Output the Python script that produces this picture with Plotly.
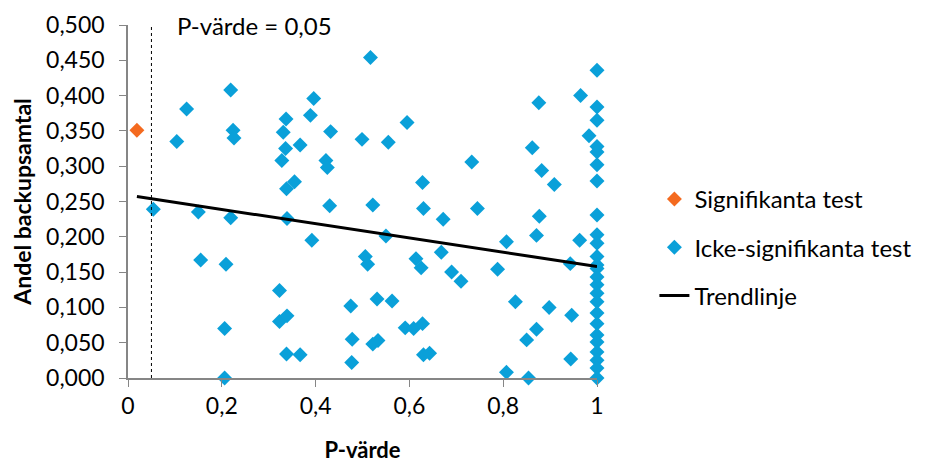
import plotly.graph_objects as go

# ---- data ----
sig_x = [0.019]
sig_y = [0.351]

nonsig_x = [
    0.054, 0.104, 0.125, 0.150, 0.155, 0.206, 0.206, 0.209, 0.219, 0.219,
    0.224, 0.226, 0.323, 0.323, 0.339, 0.328, 0.331, 0.336, 0.337, 0.338,
    0.355, 0.339, 0.338, 0.367, 0.367, 0.389, 0.396, 0.392, 0.422, 0.425,
    0.430, 0.432, 0.475, 0.478, 0.477, 0.499, 0.506, 0.511, 0.517, 0.522,
    0.522, 0.533, 0.531, 0.550, 0.555, 0.563, 0.591, 0.595, 0.609, 0.614,
    0.625, 0.628, 0.628, 0.630, 0.630, 0.643, 0.668, 0.672, 0.690, 0.710,
    0.733, 0.745, 0.788, 0.807, 0.807, 0.826, 0.850, 0.854, 0.862, 0.871,
    0.871, 0.876, 0.877, 0.882, 0.898, 0.909, 0.943, 0.944, 0.946, 0.965,
    0.963, 0.983,
    1.0, 1.0, 1.0, 1.0, 1.0, 1.0, 1.0, 1.0, 1.0, 1.0, 1.0, 1.0, 1.0, 1.0,
    1.0, 1.0, 1.0, 1.0, 1.0, 1.0, 1.0, 1.0, 1.0, 1.0, 1.0,
]
nonsig_y = [
    0.239, 0.335, 0.381, 0.235, 0.167, 0.070, 0.000, 0.161, 0.408, 0.227,
    0.351, 0.340, 0.124, 0.080, 0.088, 0.308, 0.348, 0.325, 0.367, 0.268,
    0.278, 0.226, 0.034, 0.033, 0.330, 0.372, 0.396, 0.195, 0.308, 0.298,
    0.244, 0.349, 0.102, 0.055, 0.022, 0.338, 0.172, 0.161, 0.454, 0.245,
    0.048, 0.053, 0.112, 0.201, 0.334, 0.109, 0.071, 0.362, 0.070, 0.169,
    0.156, 0.277, 0.077, 0.240, 0.033, 0.035, 0.178, 0.225, 0.150, 0.137,
    0.306, 0.240, 0.154, 0.193, 0.008, 0.108, 0.054, 0.000, 0.326, 0.202,
    0.069, 0.390, 0.229, 0.294, 0.100, 0.274, 0.162, 0.027, 0.089, 0.400,
    0.195, 0.343,
    0.436, 0.384, 0.365, 0.328, 0.320, 0.302, 0.279, 0.231, 0.203, 0.191,
    0.172, 0.155, 0.143, 0.132, 0.120, 0.108, 0.092, 0.077, 0.061, 0.051,
    0.037, 0.025, 0.014, 0.000, 0.160,
]

trend_x = [0.019, 1.0]
trend_y = [0.257, 0.158]

p_threshold = 0.05

x_tickvals = [0, 0.2, 0.4, 0.6, 0.8, 1.0]
x_ticktext = ["0", "0,2", "0,4", "0,6", "0,8", "1"]
y_tickvals = [0, 0.05, 0.1, 0.15, 0.2, 0.25, 0.3, 0.35, 0.4, 0.45, 0.5]
y_ticktext = ["0,000", "0,050", "0,100", "0,150", "0,200", "0,250",
              "0,300", "0,350", "0,400", "0,450", "0,500"]

FONT = "Lato, 'Noto Sans', sans-serif"
BLUE = "#0AA0D9"
ORANGE = "#F46A1F"
AXIS = "#868686"

fig = go.Figure()

fig.add_trace(go.Scatter(
    x=sig_x, y=sig_y, mode="markers", name="Signifikanta test",
    marker=dict(symbol="diamond", size=11.5, color=ORANGE),
    cliponaxis=False, legendgroup="a",
))
fig.add_trace(go.Scatter(
    x=nonsig_x, y=nonsig_y, mode="markers", name="Icke-signifikanta test",
    marker=dict(symbol="diamond", size=11.5, color=BLUE),
    cliponaxis=False, legendgroup="b",
))
fig.add_trace(go.Scatter(
    x=trend_x, y=trend_y, mode="lines", name="Trendlinje",
    line=dict(color="black", width=3),
    cliponaxis=False, legendgroup="c",
))

fig.add_shape(type="line", xref="x", yref="y",
              x0=p_threshold, x1=p_threshold, y0=0, y1=0.5,
              line=dict(color="black", width=1, dash="3px,3px"))

fig.add_annotation(text="P-värde = 0,05", xref="x", yref="y",
                   x=0.1, y=0.5, xanchor="left", yanchor="middle",
                   showarrow=False, font=dict(family=FONT, size=24, color="black"))

fig.update_layout(
    width=928, height=463,
    margin=dict(l=128, r=330, t=25, b=85),
    paper_bgcolor="white", plot_bgcolor="white",
    font=dict(family=FONT, size=23, color="black"),
    showlegend=True,
    legend=dict(x=1.12, y=0.37, xanchor="left", yanchor="middle",
                font=dict(family=FONT, size=24, color="black"),
                tracegroupgap=14, bgcolor="rgba(0,0,0,0)"),
    xaxis=dict(range=[0, 1], tickvals=x_tickvals, ticktext=x_ticktext,
               showgrid=False, zeroline=False, showline=True, automargin=False,
               linecolor=AXIS, linewidth=1.5, ticks="outside", ticklen=7,
               tickcolor=AXIS, tickfont=dict(family=FONT, size=23),
               title=dict(text="P-värde", standoff=26,
                          font=dict(family=FONT, size=22, weight="bold"))),
    yaxis=dict(range=[0, 0.5], tickvals=y_tickvals, ticktext=y_ticktext,
               showgrid=False, zeroline=False, showline=True, automargin=False,
               linecolor=AXIS, linewidth=1.5, ticks="outside", ticklen=7,
               tickcolor=AXIS, tickfont=dict(family=FONT, size=23),
               ticklabelstandoff=10,
               title=dict(text="Andel backupsamtal", standoff=8,
                          font=dict(family=FONT, size=23, weight="bold"))),
)

fig.write_html("out.html")
